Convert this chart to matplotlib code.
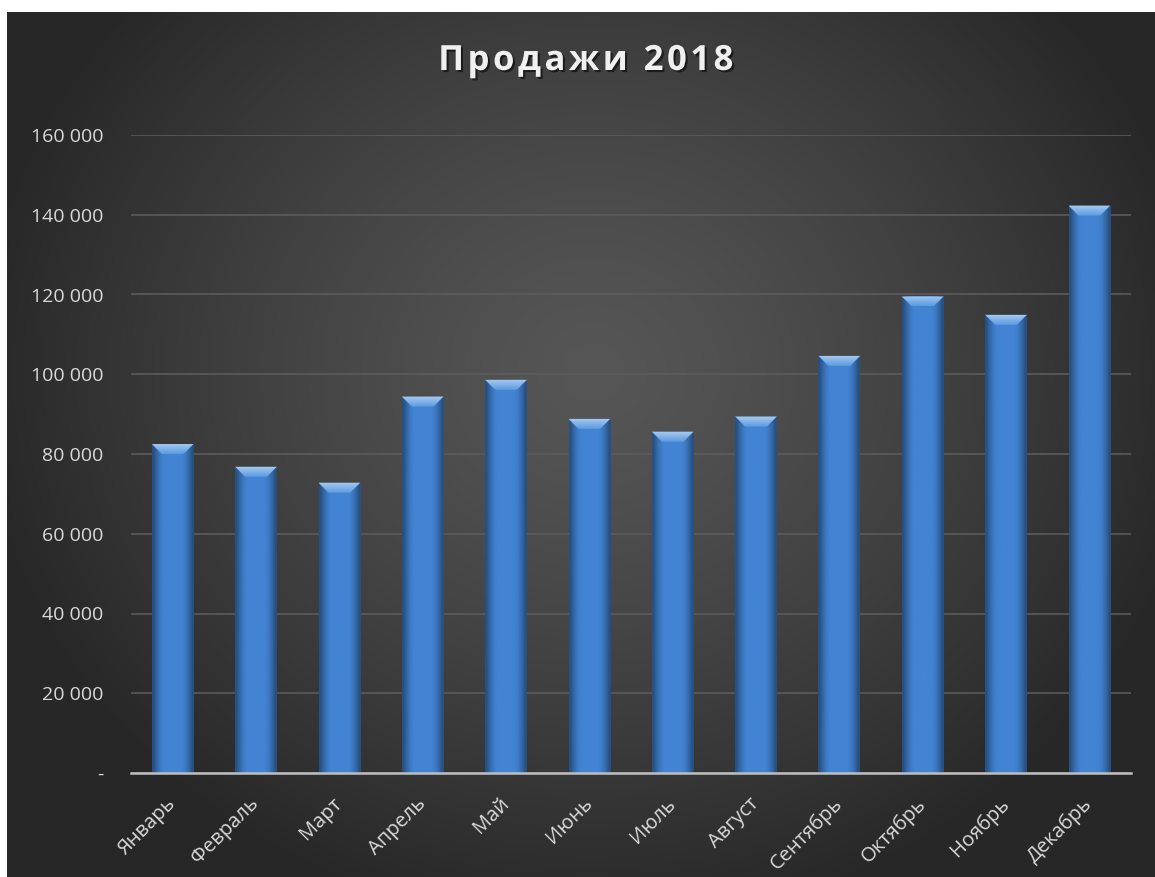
import numpy as np
import matplotlib
matplotlib.use('Agg')
import matplotlib.pyplot as plt
import matplotlib.patheffects as pe
from matplotlib.patches import Polygon
from matplotlib.ticker import FuncFormatter

months = ['Январь', 'Февраль', 'Март', 'Апрель', 'Май', 'Июнь',
          'Июль', 'Август', 'Сентябрь', 'Октябрь', 'Ноябрь', 'Декабрь']
sales = [82500, 76800, 72800, 94400, 98600, 88800,
         85600, 89400, 104600, 119500, 114900, 142300]
yticks = [0, 20000, 40000, 60000, 80000, 100000, 120000, 140000, 160000]
title = 'Продажи 2018'

W, H, dpi = 1155, 877, 100
plt.rcParams['font.family'] = ['Open Sans', 'DejaVu Sans']

fig = plt.figure(figsize=(W / dpi, H / dpi), dpi=dpi, facecolor='white')

# dark radial background (chart area, white strip left/top like the source)
bg = fig.add_axes([7 / W, 0, 1 - 7 / W, 1 - 12 / H])
bg.set_axis_off()
yy, xx = np.mgrid[0:H - 12, 0:W - 7]
cx, cy = 585, 360
r = np.hypot((xx - cx) / 620.0, (yy - cy) / 560.0)
r = np.clip(r, 0, 1)
lev = 0x56 - (0x56 - 0x27) * r ** 1.3
img = np.dstack([lev, lev, lev]) / 255.0
bg.imshow(img, aspect='auto', extent=[0, 1, 0, 1], origin='upper')
bg.set_xlim(0, 1)
bg.set_ylim(0, 1)

ax = fig.add_axes([131 / W, 1 - 773 / H, 1000 / W, 638 / H])
ax.patch.set_alpha(0)
x = np.arange(len(months))
ax.set_xlim(-0.5, len(months) - 0.5)
ax.set_ylim(0, 160000)

ax.yaxis.grid(True, color='#5e5e5e', lw=1.1)
ax.set_axisbelow(True)
for s in ['left', 'right', 'top']:
    ax.spines[s].set_visible(False)
ax.spines['bottom'].set_color('#bfbfbf')
ax.spines['bottom'].set_linewidth(1.8)
ax.spines['bottom'].set_zorder(5)

bars = ax.bar(x, sales, width=0.5, color='#3e7fcf', zorder=2)

# pixel -> data conversions for bevel sizes
px_x = 1.0 / (ax.transData.transform((1, 0))[0] - ax.transData.transform((0, 0))[0])
px_y = 1.0 / (ax.transData.transform((0, 1))[1] - ax.transData.transform((0, 0))[1])
bev = 10

side = np.array([0.62, 0.80, 0.93, 1.0, 1.0, 1.0, 1.0, 1.0, 1.0, 0.93, 0.80, 0.62])
base = np.array([0x42, 0x84, 0xd3]) / 255.0
body = np.clip(side[None, :, None] * base[None, None, :], 0, 1)
light_top = np.array([0xa6, 0xcc, 0xf3]) / 255.0
light_bot = np.array([0x5d, 0x9b, 0xe0]) / 255.0
cap = np.linspace(0, 1, 20)[:, None, None]
cap_img = light_top[None, None, :] * (1 - cap) + light_bot[None, None, :] * cap

for b in bars:
    x0, w, h = b.get_x(), b.get_width(), b.get_height()
    im = ax.imshow(body, extent=[x0, x0 + w, 0, h], aspect='auto',
                   origin='upper', zorder=3, interpolation='bilinear')
    im.set_clip_path(b)
    dx, dy = bev * px_x, bev * px_y
    trap = Polygon([[x0, h], [x0 + w, h], [x0 + w - dx, h - dy], [x0 + dx, h - dy]],
                   closed=True, facecolor='none', edgecolor='none')
    ax.add_patch(trap)
    ci = ax.imshow(cap_img, extent=[x0, x0 + w, h - dy, h], aspect='auto',
                   origin='upper', zorder=4, interpolation='bilinear')
    ci.set_clip_path(trap)

ax.set_xlim(-0.5, len(months) - 0.5)
ax.set_ylim(0, 160000)

ax.set_yticks(yticks)
ax.yaxis.set_major_formatter(FuncFormatter(
    lambda v, p: '-' if v == 0 else '{:,.0f}'.format(v).replace(',', ' ')))
ax.tick_params(axis='y', length=0, pad=20, labelsize=14, labelcolor='#d9d9d9')
ax.set_xticks(x)
ax.set_xticklabels(months, rotation=45, ha='right', va='center',
                   rotation_mode='anchor')
ax.tick_params(axis='x', length=0, pad=20, labelsize=14.5, labelcolor='#d9d9d9')

spaced = '\u200a'.join(title)
fig.text(586 / W, 1 - 61 / H, spaced, ha='center', va='center',
         fontsize=25, fontweight='bold', color='#f0f0f0',
         path_effects=[pe.withSimplePatchShadow(offset=(1.5, -1.5),
                                                shadow_rgbFace='black', alpha=0.55)])

fig.savefig('out.png', dpi=dpi, facecolor='white')
